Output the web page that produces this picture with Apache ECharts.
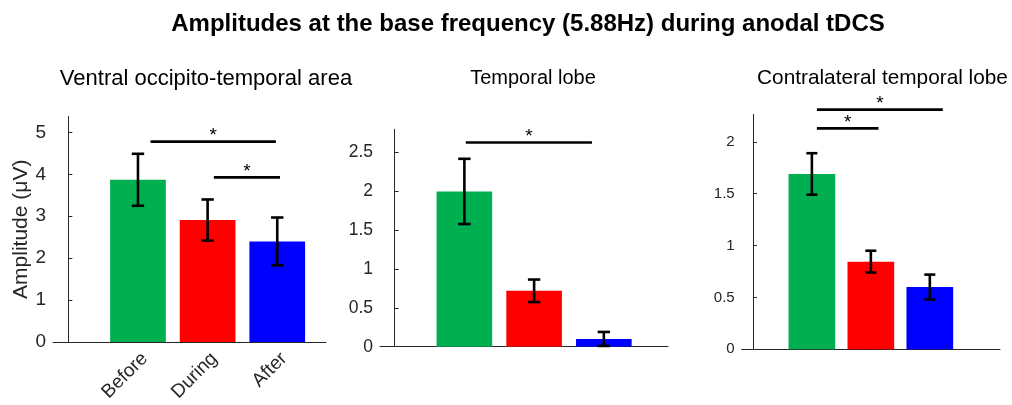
<!DOCTYPE html>
<html>
<head>
<meta charset="utf-8">
<script src="https://cdn.jsdelivr.net/npm/echarts@6/dist/echarts.min.js"></script>
<style>
  html, body { margin: 0; padding: 0; background: #fff; }
  #main { width: 1012px; height: 405px; }
</style>
</head>
<body>
<div id="main"></div>
<script>
// categories and colours of the three conditions
var categories = ['Before', 'During', 'After'];
var barColors = ['#00b050', '#ff0000', '#0000ff'];
var panelTitles = ['Ventral occipito-temporal area', 'Temporal lobe', 'Contralateral temporal lobe'];

// mean amplitudes (µV) and error bar half-lengths
var amp1 = [3.87, 2.91, 2.40];
var err1 = [0.62, 0.49, 0.57];
var amp2 = [2.00, 0.72, 0.10];
var err2 = [0.42, 0.145, 0.09];
var amp3 = [1.69, 0.845, 0.60];
var err3 = [0.20, 0.105, 0.12];

// significance lines: [x start, height, x end]
var sig1 = [[1.18, 4.78, 2.98], [2.09, 3.93, 3.04]];
var sig2 = [[1.02, 2.63, 2.83]];
var sig3 = [[1.085, 2.31, 3.22], [1.085, 2.13, 2.13]];

// tick labels of the y axes
var yTicks1 = [0, 1, 2, 3, 4, 5];
var yTicks2 = [0, 0.5, 1, 1.5, 2, 2.5];
var yTicks3 = [0, 0.5, 1, 1.5, 2];

var axisColor = '#262626';
var font = 'Liberation Sans';
var chart = echarts.init(document.getElementById('main'));

function barData(values) {
  return values.map(function (v, i) {
    return { value: [i + 1, v], itemStyle: { color: barColors[i] } };
  });
}

function errData(values, errs) {
  return values.map(function (v, i) { return [i + 1, v, errs[i]]; });
}

function renderErr(params, api) {
  var x = api.value(0), y = api.value(1), e = api.value(2);
  var top = api.coord([x, y + e]);
  var bot = api.coord([x, y - e]);
  var w = params.seriesIndex === 7 ? 5.5 : 6.2;
  var st = { stroke: '#000', lineWidth: 2.6 };
  return {
    type: 'group',
    children: [
      { type: 'line', shape: { x1: top[0], y1: top[1], x2: bot[0], y2: bot[1] }, style: st },
      { type: 'line', shape: { x1: top[0] - w, y1: top[1], x2: top[0] + w, y2: top[1] }, style: st },
      { type: 'line', shape: { x1: bot[0] - w, y1: bot[1], x2: bot[0] + w, y2: bot[1] }, style: st }
    ]
  };
}

function renderSig(params, api) {
  var a = api.coord([api.value(0), api.value(1)]);
  var b = api.coord([api.value(2), api.value(1)]);
  return {
    type: 'group',
    children: [
      { type: 'line', shape: { x1: a[0], y1: a[1], x2: b[0], y2: b[1] },
        style: { stroke: '#000', lineWidth: 2.7 } },
      { type: 'text', x: (a[0] + b[0]) / 2, y: a[1] - 15,
        style: { text: '*', fill: '#000', font: '19px "Liberation Sans", Arial', align: 'center', verticalAlign: 'top' } }
    ]
  };
}

function xAxisOf(idx, min, max, showLabels) {
  return {
    type: 'value', gridIndex: idx, min: min, max: max,
    splitLine: { show: false },
    axisLine: { show: true, lineStyle: { color: axisColor, width: 1 } },
    axisTick: { show: true, inside: true, length: 4, customValues: [1, 2, 3], lineStyle: { color: axisColor } },
    axisLabel: {
      show: showLabels, customValues: [1, 2, 3], rotate: 45, margin: 7, verticalAlign: 'top',
      fontSize: 19, color: axisColor, fontFamily: font,
      formatter: function (v) { return categories[Math.round(v) - 1]; }
    }
  };
}

function yAxisOf(idx, max, ticks, fontSize, extra) {
  var ax = {
    type: 'value', gridIndex: idx, min: 0, max: max,
    splitLine: { show: false },
    axisLine: { show: true, lineStyle: { color: axisColor, width: 1 } },
    axisTick: { show: true, inside: true, length: 4, customValues: ticks, lineStyle: { color: axisColor } },
    axisLabel: { customValues: ticks, fontSize: fontSize, color: axisColor, margin: 7, fontFamily: font }
  };
  for (var k in extra) ax[k] = extra[k];
  return ax;
}

function subTitle(text, center, size) {
  return { text: text, left: center - 5, top: 63, textAlign: 'center',
    textStyle: { fontSize: size, fontWeight: 'normal', color: '#000', fontFamily: font } };
}

var option = {
  animation: false,
  backgroundColor: '#fff',
  title: [
    { text: 'Amplitudes at the base frequency (5.88Hz) during anodal tDCS', left: 523, top: 7, textAlign: 'center',
      textStyle: { fontSize: 24, fontWeight: 'bold', color: '#000', fontFamily: font } },
    subTitle(panelTitles[0], 206, 22),
    subTitle(panelTitles[1], 533, 20),
    subTitle(panelTitles[2], 882.5, 20.8)
  ],
  grid: [
    { left: 53, width: 273, top: 116.5, height: 225.5 },
    { left: 380, width: 288, top: 129.3, height: 217.4 },
    { left: 741.7, width: 258.3, top: 114.3, height: 235 }
  ],
  xAxis: [
    xAxisOf(0, -0.22, 3.7, true),
    xAxisOf(1, -0.21, 3.92, false),
    xAxisOf(2, -0.19, 4.19, false)
  ],
  yAxis: [
    yAxisOf(0, 5.38, yTicks1, 19, {
      name: 'Amplitude (μV)', nameLocation: 'middle', nameRotate: 90, nameGap: 17,
      nameTextStyle: { fontSize: 21, color: axisColor, fontFamily: font }
    }),
    yAxisOf(1, 2.8, yTicks2, 17.5, {}),
    yAxisOf(2, 2.265, yTicks3, 15, {})
  ],
  series: [
    { type: 'bar', xAxisIndex: 0, yAxisIndex: 0, barWidth: 55.7, data: barData(amp1) },
    { type: 'bar', xAxisIndex: 1, yAxisIndex: 1, barWidth: 55.6, data: barData(amp2) },
    { type: 'bar', xAxisIndex: 2, yAxisIndex: 2, barWidth: 46.7, data: barData(amp3) },
    { type: 'custom', xAxisIndex: 0, yAxisIndex: 0, z: 5, clip: false, renderItem: renderErr, data: errData(amp1, err1) },
    { type: 'custom', xAxisIndex: 1, yAxisIndex: 1, z: 5, clip: false, renderItem: renderErr, data: errData(amp2, err2) },
    { type: 'custom', xAxisIndex: 0, yAxisIndex: 0, z: 5, clip: false, renderItem: renderSig, data: sig1 },
    { type: 'custom', xAxisIndex: 1, yAxisIndex: 1, z: 5, clip: false, renderItem: renderSig, data: sig2 },
    { type: 'custom', xAxisIndex: 2, yAxisIndex: 2, z: 5, clip: false, renderItem: renderErr, data: errData(amp3, err3) },
    { type: 'custom', xAxisIndex: 2, yAxisIndex: 2, z: 5, clip: false, renderItem: renderSig, data: sig3 }
  ]
};

chart.setOption(option);
</script>
</body>
</html>
